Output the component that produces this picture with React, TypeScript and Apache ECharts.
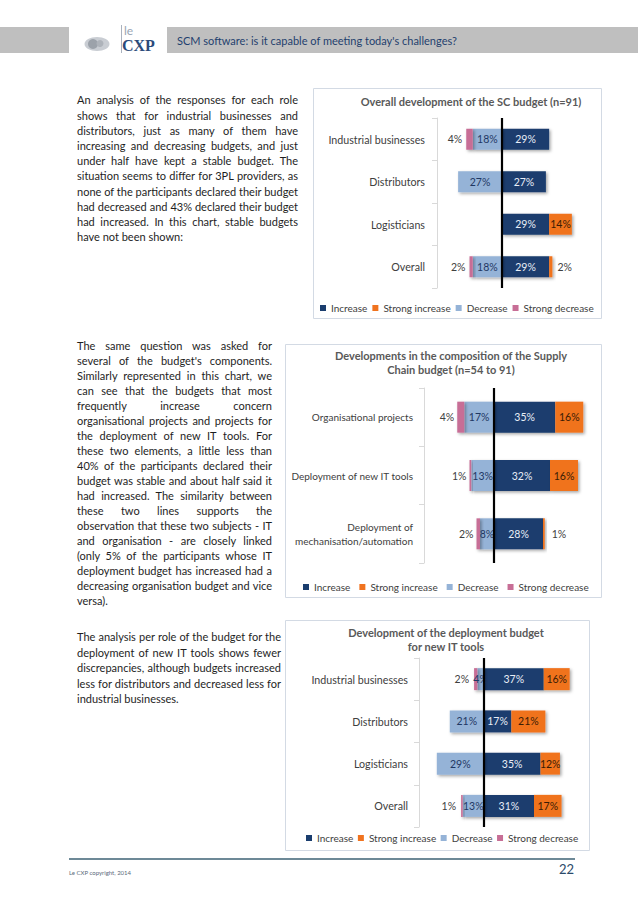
import React, { useEffect, useRef } from "react";
import * as echarts from "echarts";

const FONT = "Lato, 'Open Sans', sans-serif";

const seriesNames = ["Increase", "Strong increase", "Decrease", "Strong decrease"];
const seriesColors = ["#1a3d6e", "#f0731f", "#95b3d7", "#c76e96"];
const labelColors = ["#e8eef7", "#3a1c05", "#1f3864", "#404040"];

const headerTitle = "SCM software: is it capable of meeting today's challenges?";
const footerText = "Le CXP copyright, 2014";
const pageNumber = "22";

// Chart 1
const c1Title = "Overall development of the SC budget (n=91)";
const c1Categories = ["Industrial businesses", "Distributors", "Logisticians", "Overall"];
const c1Increase = [29, 27, 29, 29];
const c1StrongIncrease = [0, 0, 14, 2];
const c1Decrease = [18, 27, 0, 18];
const c1StrongDecrease = [4, 0, 0, 2];

// Chart 2
const c2Title = "Developments in the composition of the Supply\nChain budget (n=54 to 91)";
const c2Categories = ["Organisational projects", "Deployment of new IT tools", "Deployment of\nmechanisation/automation"];
const c2Increase = [35, 32, 28];
const c2StrongIncrease = [16, 16, 1];
const c2Decrease = [17, 13, 8];
const c2StrongDecrease = [4, 1, 2];

// Chart 3
const c3Title = "Development of the deployment budget\nfor new IT tools";
const c3Categories = ["Industrial businesses", "Distributors", "Logisticians", "Overall"];
const c3Increase = [37, 17, 35, 31];
const c3StrongIncrease = [16, 21, 12, 17];
const c3Decrease = [4, 21, 29, 13];
const c3StrongDecrease = [2, 0, 0, 1];

const p1Lines = [
  "An analysis of the responses for each role",
  "shows that for industrial businesses and",
  "distributors, just as many of them have",
  "increasing and decreasing budgets, and just",
  "under half have kept a stable budget. The",
  "situation seems to differ for 3PL providers, as",
  "none of the participants declared their budget",
  "had decreased and 43% declared their budget",
  "had increased. In this chart, stable budgets",
  "have not been shown:",
];
const p2Lines = [
  "The same question was asked for",
  "several of the budget's components.",
  "Similarly represented in this chart, we",
  "can see that the budgets that most",
  "frequently increase concern",
  "organisational projects and projects for",
  "the deployment of new IT tools. For",
  "these two elements, a little less than",
  "40% of the participants declared their",
  "budget was stable and about half said it",
  "had increased. The similarity between",
  "these two lines supports the",
  "observation that these two subjects - IT",
  "and organisation - are closely linked",
  "(only 5% of the participants whose IT",
  "deployment budget has increased had a",
  "decreasing organisation budget and vice",
  "versa).",
];
const p3Lines = [
  "The analysis per role of the budget for the",
  "deployment of new IT tools shows fewer",
  "discrepancies, although budgets increased",
  "less for distributors and decreased less for",
  "industrial businesses.",
];

const shadow = {
  shadowColor: "rgba(0,0,0,0.35)",
  shadowBlur: 3,
  shadowOffsetX: 1.5,
  shadowOffsetY: 1.5,
};

function buildSeries(
  k: number,
  inc: number[],
  sinc: number[],
  dec: number[],
  sdec: number[],
  barWidth: number,
  sdDist: number,
  siDist: number
) {
  const fmt = (p: any) => Math.abs(p.value) + "%";
  const lbl = (i: number) => ({
    show: true,
    position: "inside",
    color: labelColors[i],
    fontSize: 10.5,
    fontFamily: FONT,
    formatter: fmt,
  });
  const common = {
    type: "bar",
    stack: "st" + k,
    xAxisIndex: k,
    yAxisIndex: k,
    barWidth,
    emphasis: { disabled: true },
  };
  return [
    {
      ...common,
      name: seriesNames[0],
      itemStyle: { color: seriesColors[0], ...shadow },
      label: lbl(0),
      data: inc.map((v) => (v ? v : null)),
      markLine: {
        silent: true,
        symbol: ["none", "none"],
        label: { show: false },
        emphasis: { disabled: true },
        lineStyle: { color: "#000", width: 2.2, type: "solid" },
        data: [{ xAxis: 0 }],
      },
    },
    {
      ...common,
      name: seriesNames[1],
      itemStyle: { color: seriesColors[1], ...shadow },
      label: lbl(1),
      data: sinc.map((v) =>
        v ? (v < 5 ? { value: v, label: { position: "right", distance: siDist, color: "#404040" } } : v) : null
      ),
    },
    {
      ...common,
      name: seriesNames[2],
      itemStyle: { color: seriesColors[2], ...shadow },
      label: lbl(2),
      data: dec.map((v) => (v ? -v : null)),
    },
    {
      ...common,
      name: seriesNames[3],
      itemStyle: { color: seriesColors[3], ...shadow },
      label: { ...lbl(3), position: "left", distance: sdDist },
      data: sdec.map((v) => (v ? -v : null)),
    },
  ];
}

function catAxis(k: number, cats: string[], margin: number, fontSize: number) {
  return {
    type: "category",
    gridIndex: k,
    data: cats,
    inverse: true,
    axisLine: { show: true, onZero: false, lineStyle: { color: "#d9d9d9", width: 1 } },
    axisTick: { show: true, length: 5, lineStyle: { color: "#d9d9d9" } },
    axisLabel: { margin, fontSize, color: "#404040", fontFamily: FONT, lineHeight: 14 },
    splitLine: { show: false },
  };
}

function valAxis(k: number) {
  return { type: "value", gridIndex: k, min: -40, max: 60, show: false };
}

function legend(left: number, top: number, itemGap: number) {
  return {
    left,
    top,
    padding: 0,
    itemWidth: 6,
    itemHeight: 6,
    itemGap,
    icon: "rect",
    selectedMode: false,
    textStyle: { fontSize: 10, color: "#404040", fontFamily: FONT },
    data: seriesNames,
  };
}

function titleText(x: number, y: number, text: string) {
  return {
    type: "text",
    x,
    y,
    style: {
      text,
      fill: "#595959",
      fontSize: 11,
      fontWeight: "bold",
      fontFamily: FONT,
      lineHeight: 14,
      align: "center",
      verticalAlign: "top",
      textAlign: "center",
      textVerticalAlign: "top",
    },
  };
}

function box(x: number, y: number, w: number, h: number) {
  return {
    type: "rect",
    shape: { x: x + 0.5, y: y + 0.5, width: w, height: h },
    style: { fill: "none", stroke: "#d3dae4", lineWidth: 1 },
    z: -1,
  };
}

function Para(props: { lines: string[]; left: number; top: number; width: number; lh: number }) {
  const { lines, left, top, width, lh } = props;
  return (
    <div
      style={{
        position: "absolute",
        left,
        top,
        width,
        fontFamily: FONT,
        fontSize: 11,
        color: "#1e1e1e",
        lineHeight: lh + "px",
      }}
    >
      {lines.map((l, i) => (
        <div
          key={i}
          style={{
            height: lh,
            textAlign: "justify",
            textAlignLast: i === lines.length - 1 ? "left" : "justify",
          } as any}
        >
          {l}
        </div>
      ))}
    </div>
  );
}

export default function App() {
  const ref = useRef<HTMLDivElement>(null);
  useEffect(() => {
    const chart = echarts.init(ref.current!, null, { renderer: "svg" });
    const option: any = {
      animation: false,
      backgroundColor: "#ffffff",
      grid: [
        { left: 437, top: 118, width: 162.5, height: 170 },
        { left: 424, top: 388, width: 175, height: 175 },
        { left: 419, top: 658, width: 162, height: 169 },
      ],
      xAxis: [valAxis(0), valAxis(1), valAxis(2)],
      yAxis: [
        catAxis(0, c1Categories, 12, 10.7),
        catAxis(1, c2Categories, 11, 10),
        catAxis(2, c3Categories, 11, 10.7),
      ],
      legend: [legend(320, 303, 5), legend(303, 582, 9), legend(306, 833, 4.5)],
      series: [
        ...buildSeries(0, c1Increase, c1StrongIncrease, c1Decrease, c1StrongDecrease, 21, 4, 5),
        ...buildSeries(1, c2Increase, c2StrongIncrease, c2Decrease, c2StrongDecrease, 31, 3, 7),
        ...buildSeries(2, c3Increase, c3StrongIncrease, c3Decrease, c3StrongDecrease, 22, 5, 5),
      ],
      graphic: [
        // header
        { type: "rect", shape: { x: 0, y: 27, width: 69, height: 26 }, style: { fill: "#bfbfbf" } },
        { type: "rect", shape: { x: 167, y: 27, width: 471, height: 26 }, style: { fill: "#bfbfbf" } },
        {
          type: "text",
          x: 177,
          y: 40,
          style: {
            text: headerTitle,
            fill: "#1f3f6e",
            fontSize: 11,
            fontFamily: FONT,
            align: "left",
            verticalAlign: "middle",
            textAlign: "left",
            textVerticalAlign: "middle",
          },
        },
        // logo
        { type: "ellipse", shape: { cx: 97, cy: 44, rx: 12.5, ry: 7 }, style: { fill: "#c9cdd3" } },
        { type: "circle", shape: { cx: 93, cy: 44, r: 5 }, style: { fill: "#9ca2aa" } },
        { type: "circle", shape: { cx: 100, cy: 43.5, r: 3.5 }, style: { fill: "#aeb3ba" } },
        { type: "line", shape: { x1: 121.5, y1: 25, x2: 121.5, y2: 53 }, style: { stroke: "#aab2be", lineWidth: 1 } },
        {
          type: "text",
          x: 124,
          y: 30,
          style: {
            text: "le",
            fill: "#98a4b4",
            fontSize: 12,
            fontFamily: FONT,
            align: "left",
            verticalAlign: "middle",
            textAlign: "left",
            textVerticalAlign: "middle",
          },
        },
        {
          type: "text",
          x: 122,
          y: 45,
          style: {
            text: "CXP",
            fill: "#2b4a7a",
            fontSize: 16,
            fontWeight: "bold",
            fontFamily: "'Liberation Serif', serif",
            align: "left",
            verticalAlign: "middle",
            textAlign: "left",
            textVerticalAlign: "middle",
          },
        },
        // chart boxes
        box(313, 88, 288, 230),
        box(285, 344, 316, 253),
        box(285, 620, 304, 230),
        // chart titles
        titleText(471, 94, c1Title),
        titleText(451, 348, c2Title),
        titleText(446, 625, c3Title),
        // footer
        { type: "line", shape: { x1: 69, y1: 859, x2: 575, y2: 859 }, style: { stroke: "#3d6275", lineWidth: 1.5 } },
        {
          type: "text",
          x: 69,
          y: 872,
          style: {
            text: footerText,
            fill: "#5a6a7a",
            fontSize: 6,
            fontFamily: FONT,
            align: "left",
            verticalAlign: "middle",
            textAlign: "left",
            textVerticalAlign: "middle",
          },
        },
        {
          type: "text",
          x: 574,
          y: 869,
          style: {
            text: pageNumber,
            fill: "#2b4a6a",
            fontSize: 13,
            fontFamily: FONT,
            align: "right",
            verticalAlign: "middle",
            textAlign: "right",
            textVerticalAlign: "middle",
          },
        },
      ],
    };
    chart.setOption(option);
    return () => chart.dispose();
  }, []);

  return (
    <div
      style={{
        position: "absolute",
        left: 0,
        top: 0,
        width: 638,
        height: 903,
        background: "#fff",
        overflow: "hidden",
      }}
    >
      <div ref={ref} style={{ position: "absolute", left: 0, top: 0, width: 638, height: 903 }} />
      <Para lines={p1Lines} left={77} top={92.4} width={221} lh={15.2} />
      <Para lines={p2Lines} left={77} top={337.5} width={195} lh={15.0} />
      <Para lines={p3Lines} left={77} top={629.3} width={204} lh={15.5} />
    </div>
  );
}
